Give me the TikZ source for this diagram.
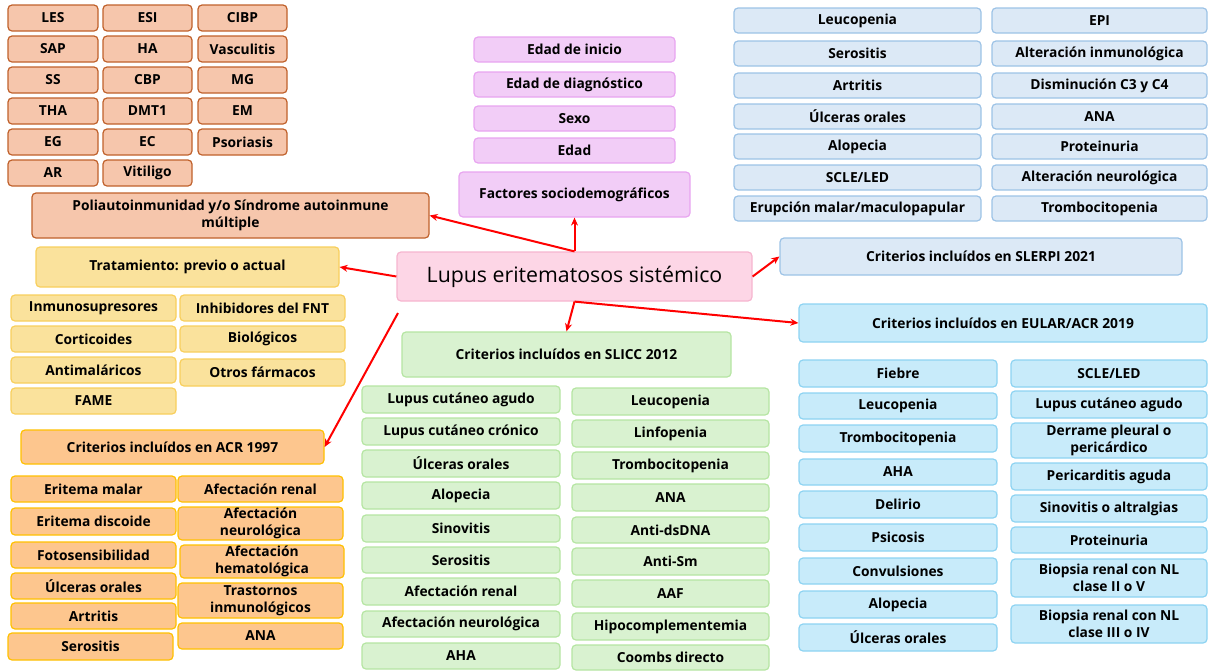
\documentclass[tikz,border=0pt]{standalone}
\usepackage{fontspec}
\setmainfont{Open Sans}
\usetikzlibrary{arrows.meta}
\definecolor{ofill}{HTML}{F6C6AC}\definecolor{odraw}{HTML}{C0612B}
\definecolor{pfill}{HTML}{F2CDF7}\definecolor{pdraw}{HTML}{E8A5F0}
\definecolor{lfill}{HTML}{FDD6E6}\definecolor{ldraw}{HTML}{F6B5CF}
\definecolor{bfill}{HTML}{DCE9F6}\definecolor{bdraw}{HTML}{9DC3E6}
\definecolor{yfill}{HTML}{FAE29C}\definecolor{ydraw}{HTML}{F8CF5C}
\definecolor{afill}{HTML}{FDC68E}\definecolor{adraw}{HTML}{FFC000}
\definecolor{gfill}{HTML}{D9F2D0}\definecolor{gdraw}{HTML}{B5E5A2}
\definecolor{cfill}{HTML}{C8EBFA}\definecolor{cdraw}{HTML}{8DD3F2}
\definecolor{arrred}{HTML}{FF0000}
\newcommand\bx[7]{\node[#2,minimum width={#5pt-#3pt},minimum height={#6pt-#4pt}] (#1) at ({(#3+#5)/2},{(#4+#6)/2}) {#7};}
\tikzset{
  base/.style={rectangle,rounded corners=4pt,line width=1.2pt,inner sep=1pt,align=center,text=black,
    font=\bfseries\fontsize{13.8}{16.5}\selectfont},
  ob/.style={base,fill=ofill,draw=odraw},
  pb/.style={base,fill=pfill,draw=pdraw},
  lb/.style={base,fill=lfill,draw=ldraw,font=\fontsize{21.3}{25}\selectfont},
  bb/.style={base,fill=bfill,draw=bdraw},
  yb/.style={base,fill=yfill,draw=ydraw},
  ab/.style={base,fill=afill,draw=adraw},
  gb/.style={base,fill=gfill,draw=gdraw},
  cb/.style={base,fill=cfill,draw=cdraw},
  arr/.style={draw=arrred,line width=2pt,-{Stealth[length=8pt,width=7pt]}}
}
\begin{document}
\begin{tikzpicture}[x=1pt,y=-1pt]
\useasboundingbox (0,0) rectangle (1208,670);
% orange top-left
\bx{o1}{ob}{8}{5}{98}{31}{LES}
\bx{o2}{ob}{103}{5}{192}{31}{ESI}
\bx{o3}{ob}{198}{5}{287}{31}{CIBP}
\bx{o4}{ob}{8}{36}{98}{62}{SAP}
\bx{o5}{ob}{103}{36}{192}{62}{HA}
\bx{o6}{ob}{198}{36}{287}{62}{Vasculitis}
\bx{o7}{ob}{8}{67}{98}{93}{SS}
\bx{o8}{ob}{103}{67}{192}{93}{CBP}
\bx{o9}{ob}{198}{67}{287}{93}{MG}
\bx{o10}{ob}{8}{98}{98}{124}{THA}
\bx{o11}{ob}{103}{98}{192}{124}{DMT1}
\bx{o12}{ob}{198}{98}{287}{124}{EM}
\bx{o13}{ob}{8}{129}{98}{155}{EG}
\bx{o14}{ob}{103}{129}{192}{155}{EC}
\bx{o15}{ob}{198}{129}{287}{155}{Psoriasis}
\bx{o16}{ob}{8}{160}{98}{186}{AR}
\bx{o17}{ob}{103}{160}{192}{186}{Vitiligo}
\bx{poli}{ob}{32}{193}{429}{238}{Poliautoinmunidad y/o Síndrome autoinmune\\múltiple}
% purple
\bx{p1}{pb}{474}{37}{675}{62}{Edad de inicio}
\bx{p2}{pb}{474}{72}{675}{97}{Edad de diagnóstico}
\bx{p3}{pb}{474}{106}{675}{131}{Sexo}
\bx{p4}{pb}{474}{138}{675}{163}{Edad}
\bx{fact}{pb}{459}{172}{690}{217}{Factores sociodemográficos}
% center
\bx{lupus}{lb}{397}{252}{752}{301}{Lupus eritematosos sistémico}
% blue top-right
\bx{b1}{bb}{734}{8}{981}{33}{Leucopenia}
\bx{b2}{bb}{734}{41}{981}{66}{Serositis}
\bx{b3}{bb}{734}{73}{981}{98}{Artritis}
\bx{b4}{bb}{734}{104}{981}{129}{Úlceras orales}
\bx{b5}{bb}{734}{134}{981}{159}{Alopecia}
\bx{b6}{bb}{734}{165}{981}{190}{SCLE/LED}
\bx{b7}{bb}{734}{196}{981}{221}{Erupción malar/maculopapular}
\bx{b8}{bb}{992}{8}{1207}{33}{EPI}
\bx{b9}{bb}{992}{41}{1207}{66}{Alteración inmunológica}
\bx{b10}{bb}{992}{73}{1207}{98}{Disminución C3 y C4}
\bx{b11}{bb}{992}{104}{1207}{129}{ANA}
\bx{b12}{bb}{992}{134}{1207}{159}{Proteinuria}
\bx{b13}{bb}{992}{165}{1207}{190}{Alteración neurológica}
\bx{b14}{bb}{992}{196}{1207}{221}{Trombocitopenia}
\bx{slerpi}{bb}{780}{238}{1182}{275}{Criterios incluídos en SLERPI 2021}
% yellow
\bx{trat}{yb}{36}{247}{339}{287}{Tratamiento: previo o actual}
\bx{y1}{yb}{11}{295}{176}{321}{Inmunosupresores}
\bx{y2}{yb}{11}{326}{176}{352}{Corticoides}
\bx{y3}{yb}{11}{357}{176}{383}{Antimaláricos}
\bx{y4}{yb}{11}{388}{176}{414}{FAME}
\bx{y5}{yb}{180}{295}{345}{321}{Inhibidores del FNT}
\bx{y6}{yb}{180}{326}{345}{352}{Biológicos}
\bx{y7}{yb}{180}{359}{345}{386}{Otros fármacos}
% ACR 1997
\bx{acr}{ab}{21}{430}{324}{464}{Criterios incluídos en ACR 1997}
\bx{a1}{ab}{11}{476}{176}{502}{Eritema malar}
\bx{a2}{ab}{11}{508}{176}{535}{Eritema discoide}
\bx{a3}{ab}{11}{542}{176}{568}{Fotosensibilidad}
\bx{a4}{ab}{11}{573}{176}{599}{Úlceras orales}
\bx{a5}{ab}{11}{603}{176}{629}{Artritis}
\bx{a6}{ab}{8}{633}{173}{660}{Serositis}
\bx{a7}{ab}{178}{476}{343}{502}{Afectación renal}
\bx{a8}{ab}{178}{507}{343}{540}{Afectación\\neurológica}
\bx{a9}{ab}{180}{545}{344}{578}{Afectación\\hematológica}
\bx{a10}{ab}{178}{583}{343}{618}{Trastornos\\inmunológicos}
\bx{a11}{ab}{178}{623}{343}{649}{ANA}
% SLICC 2012
\bx{slicc}{gb}{402}{332}{731}{377}{Criterios incluídos en SLICC 2012}
\bx{g1}{gb}{362}{386}{560}{413}{Lupus cutáneo agudo}
\bx{g2}{gb}{362}{418}{560}{445}{Lupus cutáneo crónico}
\bx{g3}{gb}{362}{450}{560}{477}{Úlceras orales}
\bx{g4}{gb}{362}{482}{560}{509}{Alopecia}
\bx{g5}{gb}{362}{515}{560}{542}{Sinovitis}
\bx{g6}{gb}{362}{547}{560}{573}{Serositis}
\bx{g7}{gb}{362}{578}{560}{605}{Afectación renal}
\bx{g8}{gb}{362}{611}{560}{637}{Afectación neurológica}
\bx{g9}{gb}{362}{643}{560}{669}{AHA}
\bx{g10}{gb}{572}{388}{769}{415}{Leucopenia}
\bx{g11}{gb}{572}{420}{769}{447}{Linfopenia}
\bx{g12}{gb}{572}{452}{769}{479}{Trombocitopenia}
\bx{g13}{gb}{572}{484}{769}{511}{ANA}
\bx{g14}{gb}{572}{517}{769}{543}{Anti-dsDNA}
\bx{g15}{gb}{572}{548}{769}{575}{Anti-Sm}
\bx{g16}{gb}{572}{580}{769}{607}{AAF}
\bx{g17}{gb}{572}{613}{769}{640}{Hipocomplementemia}
\bx{g18}{gb}{572}{645}{769}{670}{Coombs directo}
% EULAR/ACR 2019
\bx{eular}{cb}{799}{304}{1207}{342}{Criterios incluídos en EULAR/ACR 2019}
\bx{c1}{cb}{799}{360}{997}{387}{Fiebre}
\bx{c2}{cb}{799}{393}{997}{419}{Leucopenia}
\bx{c3}{cb}{799}{425}{997}{452}{Trombocitopenia}
\bx{c4}{cb}{799}{459}{997}{485}{AHA}
\bx{c5}{cb}{799}{491}{997}{518}{Delirio}
\bx{c6}{cb}{799}{524}{997}{551}{Psicosis}
\bx{c7}{cb}{799}{558}{997}{584}{Convulsiones}
\bx{c8}{cb}{799}{591}{997}{618}{Alopecia}
\bx{c9}{cb}{799}{624}{997}{651}{Úlceras orales}
\bx{c10}{cb}{1011}{360}{1207}{387}{SCLE/LED}
\bx{c11}{cb}{1011}{391}{1207}{418}{Lupus cutáneo agudo}
\bx{c12}{cb}{1011}{423}{1207}{458}{Derrame pleural o\\pericárdico}
\bx{c13}{cb}{1011}{463}{1207}{490}{Pericarditis aguda}
\bx{c14}{cb}{1011}{495}{1207}{522}{Sinovitis o altralgias}
\bx{c15}{cb}{1011}{527}{1207}{553}{Proteinuria}
\bx{c16}{cb}{1011}{559}{1207}{597}{Biopsia renal con NL\\clase II o V}
\bx{c17}{cb}{1011}{605}{1207}{643}{Biopsia renal con NL\\clase III o IV}
% connectors
\coordinate (acrstart) at (398,313);
\draw[arr] (lupus.north) -- (fact.south);
\draw[arr] (lupus.north) -- (poli.east);
\draw[arr] (lupus.east) -- (slerpi.west);
\draw[arr] (lupus.west) -- (trat.east);
\draw[arr] (acrstart) -- (acr.east);
\draw[arr] (lupus.south) -- (slicc.north);
\draw[arr] (lupus.south) -- (eular.west);
\end{tikzpicture}
\end{document}
